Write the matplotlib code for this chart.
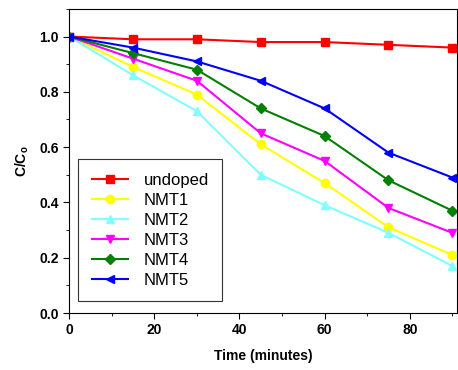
import matplotlib
matplotlib.use("Agg")
import matplotlib.pyplot as plt
from matplotlib.ticker import MultipleLocator

plt.rcParams['font.family'] = ['Liberation Sans', 'DejaVu Sans']

time = [0, 15, 30, 45, 60, 75, 90]
undoped = [1.0, 0.99, 0.99, 0.98, 0.98, 0.97, 0.96]
nmt1 = [1.0, 0.89, 0.79, 0.61, 0.47, 0.31, 0.21]
nmt2 = [1.0, 0.86, 0.73, 0.50, 0.39, 0.29, 0.17]
nmt3 = [1.0, 0.92, 0.84, 0.65, 0.55, 0.38, 0.29]
nmt4 = [1.0, 0.94, 0.88, 0.74, 0.64, 0.48, 0.37]
nmt5 = [1.0, 0.96, 0.91, 0.84, 0.74, 0.58, 0.49]

series = [
    (undoped, 'undoped', '#ff0000', 's'),
    (nmt1, 'NMT1', '#ffff00', 'o'),
    (nmt2, 'NMT2', '#80ffff', '^'),
    (nmt3, 'NMT3', '#ff00ff', 'v'),
    (nmt4, 'NMT4', '#008000', 'D'),
    (nmt5, 'NMT5', '#0000ff', '<'),
]

fig = plt.figure(figsize=(4.58, 3.70), dpi=100)
ax = fig.add_axes([0.151, 0.154, 0.846, 0.822])

for data, label, color, marker in series:
    ms = 5 if marker == 'D' else 6
    ax.plot(time, data, '-', color=color, marker=marker, markersize=ms,
            linewidth=1.5, label=label)

ax.set_xlim(0, 91)
ax.set_ylim(0, 1.1)
ax.xaxis.set_major_locator(MultipleLocator(20))
ax.xaxis.set_minor_locator(MultipleLocator(10))
ax.yaxis.set_major_locator(MultipleLocator(0.2))
ax.yaxis.set_minor_locator(MultipleLocator(0.1))
ax.tick_params(which='both', direction='out', top=False, right=False)
ax.tick_params(which='major', length=4, labelsize=10)
ax.tick_params(which='minor', length=2.5)
for lbl in ax.get_xticklabels() + ax.get_yticklabels():
    lbl.set_fontweight('bold')

ax.set_xlabel('Time (minutes)', fontsize=10, fontweight='bold', labelpad=8)
ax.set_ylabel(r'C/C$_\mathregular{o}$', fontsize=10, fontweight='bold', labelpad=6)

leg = ax.legend(loc='lower left', bbox_to_anchor=(0.024, 0.04), fontsize=12,
                frameon=True, fancybox=False, edgecolor='black',
                handlelength=2.2, handletextpad=0.9, borderpad=0.8,
                labelspacing=0.3, borderaxespad=0)
leg.get_frame().set_linewidth(0.8)

fig.savefig('out.png', dpi=100)
